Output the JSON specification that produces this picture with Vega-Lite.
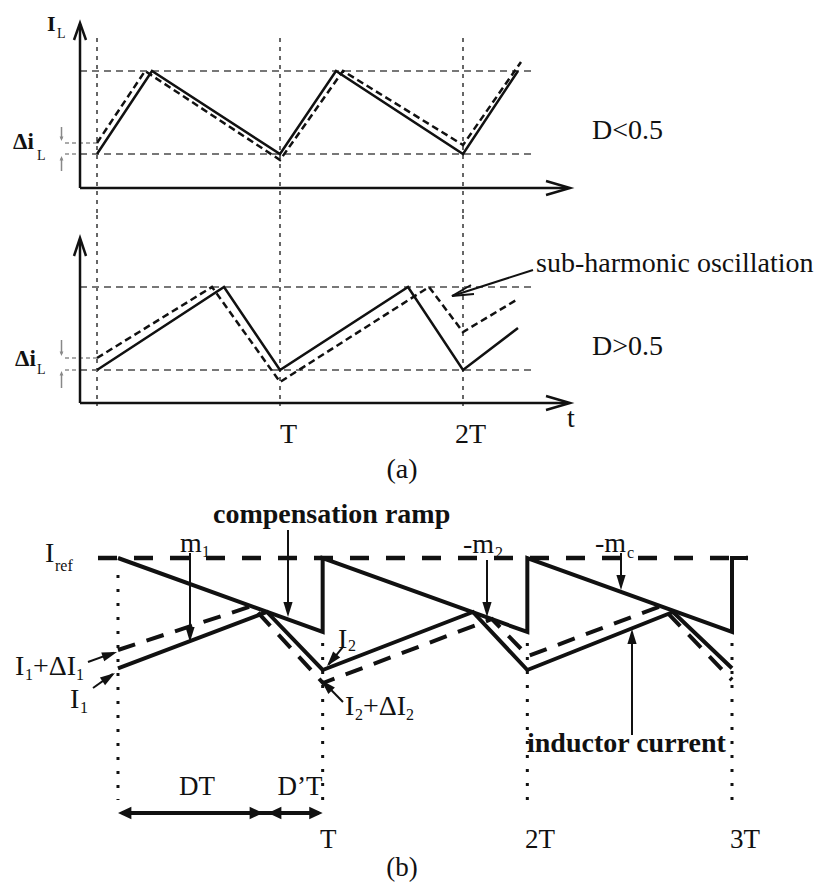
{
  "$schema": "https://vega.github.io/schema/vega-lite/v6.json",
  "padding": 0,
  "spacing": 0,
  "bounds": "flush",
  "background": "white",
  "config": {"view": {"stroke": null}, "concat": {"spacing": 0}},
  "datasets": {
    "a1L": [
      {"id": "yax", "kind": "axis", "k": 0, "t": -0.0929, "i": -0.4096},
      {"id": "yax", "kind": "axis", "k": 1, "t": -0.0929, "i": 1.5663},
      {"id": "yarr", "kind": "axis", "k": 0, "t": -0.1257, "i": 1.3735},
      {"id": "yarr", "kind": "axis", "k": 1, "t": -0.0929, "i": 1.5783},
      {"id": "yarr", "kind": "axis", "k": 2, "t": -0.0601, "i": 1.3735},
      {"id": "xax", "kind": "axis", "k": 0, "t": -0.0929, "i": -0.4096},
      {"id": "xax", "kind": "axis", "k": 1, "t": 2.5738, "i": -0.4096},
      {"id": "xarr", "kind": "axis", "k": 0, "t": 2.4536, "i": -0.3253},
      {"id": "xarr", "kind": "axis", "k": 1, "t": 2.5847, "i": -0.4096},
      {"id": "xarr", "kind": "axis", "k": 2, "t": 2.4536, "i": -0.494},
      {"id": "h1", "kind": "hguide", "k": 0, "t": -0.0929, "i": 1},
      {"id": "h1", "kind": "hguide", "k": 1, "t": 2.3934, "i": 1},
      {"id": "h0", "kind": "hguide", "k": 0, "t": -0.0929, "i": 0},
      {"id": "h0", "kind": "hguide", "k": 1, "t": 2.3934, "i": 0},
      {"id": "l0", "kind": "lguide", "k": 0, "t": -0.1749, "i": 0},
      {"id": "l0", "kind": "lguide", "k": 1, "t": -0.0929, "i": 0},
      {"id": "ld", "kind": "lguide", "k": 0, "t": -0.1749, "i": 0.1325},
      {"id": "ld", "kind": "lguide", "k": 1, "t": 0, "i": 0.1325},
      {"id": "v0", "kind": "vguide", "k": 0, "t": 0, "i": 1.3976},
      {"id": "v0", "kind": "vguide", "k": 1, "t": 0, "i": -0.7349},
      {"id": "v1", "kind": "vguide", "k": 0, "t": 1, "i": 1.3976},
      {"id": "v1", "kind": "vguide", "k": 1, "t": 1, "i": -0.7349},
      {"id": "v2", "kind": "vguide", "k": 0, "t": 2, "i": 1.3976},
      {"id": "v2", "kind": "vguide", "k": 1, "t": 2, "i": -0.7349},
      {"id": "nom", "kind": "nominal", "k": 0, "t": 0, "i": 0},
      {"id": "nom", "kind": "nominal", "k": 1, "t": 0.3005, "i": 1},
      {"id": "nom", "kind": "nominal", "k": 2, "t": 1, "i": 0},
      {"id": "nom", "kind": "nominal", "k": 3, "t": 1.306, "i": 1},
      {"id": "nom", "kind": "nominal", "k": 4, "t": 2, "i": 0},
      {"id": "nom", "kind": "nominal", "k": 5, "t": 2.3005, "i": 1},
      {"id": "pert", "kind": "perturbed", "k": 0, "t": 0, "i": 0.1325},
      {"id": "pert", "kind": "perturbed", "k": 1, "t": 0.2623, "i": 1},
      {"id": "pert", "kind": "perturbed", "k": 2, "t": 1, "i": -0.0723},
      {"id": "pert", "kind": "perturbed", "k": 3, "t": 1.3443, "i": 1},
      {"id": "pert", "kind": "perturbed", "k": 4, "t": 2, "i": 0.1084},
      {"id": "pert", "kind": "perturbed", "k": 5, "t": 2.3169, "i": 1.1084},
      {"id": "sa1", "kind": "small", "k": 0, "t": -0.194, "i": 0.3253},
      {"id": "sa1", "kind": "small", "k": 1, "t": -0.194, "i": 0.1807},
      {"id": "sa2", "kind": "small", "k": 0, "t": -0.194, "i": -0.2048},
      {"id": "sa2", "kind": "small", "k": 1, "t": -0.194, "i": -0.0482}
    ],
    "a1P": [
      {"kind": "small", "t": -0.194, "i": 0.1566, "heading": 180},
      {"kind": "small", "t": -0.194, "i": -0.0241, "heading": 0}
    ],
    "a1T": [
      {"kind": "axislabel", "t": -0.2732, "i": 1.4819, "text": "I"},
      {"kind": "axissub", "t": -0.2186, "i": 1.3976, "text": "L"},
      {"kind": "delta", "t": -0.459, "i": 0.0602, "text": "Δi"},
      {"kind": "deltasub", "t": -0.3279, "i": -0.0723, "text": "L"},
      {"kind": "note", "t": 2.7049, "i": 0.1807, "text": "D<0.5"}
    ],
    "a2L": [
      {"id": "yax", "kind": "axis", "k": 0, "t": -0.0929, "i": -0.3976},
      {"id": "yax", "kind": "axis", "k": 1, "t": -0.0929, "i": 1.5663},
      {"id": "yarr", "kind": "axis", "k": 0, "t": -0.1257, "i": 1.3735},
      {"id": "yarr", "kind": "axis", "k": 1, "t": -0.0929, "i": 1.5904},
      {"id": "yarr", "kind": "axis", "k": 2, "t": -0.0601, "i": 1.3735},
      {"id": "xax", "kind": "axis", "k": 0, "t": -0.0929, "i": -0.3976},
      {"id": "xax", "kind": "axis", "k": 1, "t": 2.5738, "i": -0.3976},
      {"id": "xarr", "kind": "axis", "k": 0, "t": 2.4536, "i": -0.3133},
      {"id": "xarr", "kind": "axis", "k": 1, "t": 2.5847, "i": -0.3976},
      {"id": "xarr", "kind": "axis", "k": 2, "t": 2.4536, "i": -0.4819},
      {"id": "h1", "kind": "hguide", "k": 0, "t": -0.0929, "i": 1},
      {"id": "h1", "kind": "hguide", "k": 1, "t": 2.3934, "i": 1},
      {"id": "h0", "kind": "hguide", "k": 0, "t": -0.0929, "i": 0},
      {"id": "h0", "kind": "hguide", "k": 1, "t": 2.3934, "i": 0},
      {"id": "l0", "kind": "lguide", "k": 0, "t": -0.1749, "i": 0},
      {"id": "l0", "kind": "lguide", "k": 1, "t": -0.0929, "i": 0},
      {"id": "ld", "kind": "lguide", "k": 0, "t": -0.1749, "i": 0.1446},
      {"id": "ld", "kind": "lguide", "k": 1, "t": 0, "i": 0.1446},
      {"id": "v0", "kind": "vguide", "k": 0, "t": 0, "i": 1.8675},
      {"id": "v0", "kind": "vguide", "k": 1, "t": 0, "i": -0.4337},
      {"id": "v1", "kind": "vguide", "k": 0, "t": 1, "i": 1.8675},
      {"id": "v1", "kind": "vguide", "k": 1, "t": 1, "i": -0.4337},
      {"id": "v2", "kind": "vguide", "k": 0, "t": 2, "i": 1.8675},
      {"id": "v2", "kind": "vguide", "k": 1, "t": 2, "i": -0.4337},
      {"id": "nom", "kind": "nominal", "k": 0, "t": 0, "i": 0},
      {"id": "nom", "kind": "nominal", "k": 1, "t": 0.694, "i": 1},
      {"id": "nom", "kind": "nominal", "k": 2, "t": 1, "i": 0},
      {"id": "nom", "kind": "nominal", "k": 3, "t": 1.6995, "i": 1},
      {"id": "nom", "kind": "nominal", "k": 4, "t": 2, "i": 0},
      {"id": "nom", "kind": "nominal", "k": 5, "t": 2.3005, "i": 0.506},
      {"id": "pert", "kind": "perturbed", "k": 0, "t": 0, "i": 0.1446},
      {"id": "pert", "kind": "perturbed", "k": 1, "t": 0.6284, "i": 1},
      {"id": "pert", "kind": "perturbed", "k": 2, "t": 1, "i": -0.1446},
      {"id": "pert", "kind": "perturbed", "k": 3, "t": 1.8142, "i": 1},
      {"id": "pert", "kind": "perturbed", "k": 4, "t": 2, "i": 0.4578},
      {"id": "pert", "kind": "perturbed", "k": 5, "t": 2.3005, "i": 0.8554},
      {"id": "sa1", "kind": "small", "k": 0, "t": -0.194, "i": 0.3614},
      {"id": "sa1", "kind": "small", "k": 1, "t": -0.194, "i": 0.1928},
      {"id": "sa2", "kind": "small", "k": 0, "t": -0.194, "i": -0.2169},
      {"id": "sa2", "kind": "small", "k": 1, "t": -0.194, "i": -0.0482},
      {"id": "shaft", "kind": "annot", "k": 0, "t": 2.3825, "i": 1.2048},
      {"id": "shaft", "kind": "annot", "k": 1, "t": 1.9399, "i": 0.8916},
      {"id": "barb", "kind": "annot", "k": 0, "t": 2.0437, "i": 1.0241},
      {"id": "barb", "kind": "annot", "k": 1, "t": 1.9399, "i": 0.8916},
      {"id": "barb", "kind": "annot", "k": 2, "t": 2.0601, "i": 0.9157}
    ],
    "a2P": [
      {"kind": "small", "t": -0.194, "i": 0.1687, "heading": 180},
      {"kind": "small", "t": -0.194, "i": -0.012, "heading": 0}
    ],
    "a2T": [
      {"kind": "delta", "t": -0.4481, "i": 0.0482, "text": "Δi"},
      {"kind": "deltasub", "t": -0.3279, "i": -0.0482, "text": "L"},
      {"kind": "note", "t": 2.7049, "i": 0.1807, "text": "D>0.5"},
      {"kind": "note", "t": 2.3989, "i": 1.1807, "text": "sub-harmonic oscillation"},
      {"kind": "tick", "t": 1, "i": -0.8795, "text": "T"},
      {"kind": "tick", "t": 1.9563, "i": -0.8795, "text": "2T"},
      {"kind": "tick", "t": 2.5683, "i": -0.6867, "text": "t"},
      {"kind": "caption", "t": 1.6667, "i": -1.3012, "text": "(a)"}
    ],
    "bL": [
      {"id": "iref", "kind": "iref", "k": 0, "t": -0.0977, "i": 1},
      {"id": "iref", "kind": "iref", "k": 1, "t": 3.0782, "i": 1},
      {"id": "ramp", "kind": "heavy", "k": 0, "t": 0, "i": 1},
      {"id": "ramp", "kind": "heavy", "k": 1, "t": 1, "i": 0.3393},
      {"id": "ramp", "kind": "heavy", "k": 2, "t": 1, "i": 1},
      {"id": "ramp", "kind": "heavy", "k": 3, "t": 2, "i": 0.3393},
      {"id": "ramp", "kind": "heavy", "k": 4, "t": 2, "i": 1},
      {"id": "ramp", "kind": "heavy", "k": 5, "t": 3, "i": 0.3393},
      {"id": "ramp", "kind": "heavy", "k": 6, "t": 3, "i": 1},
      {"id": "ramp", "kind": "heavy", "k": 7, "t": 3.0782, "i": 1},
      {"id": "nom", "kind": "heavy", "k": 0, "t": 0, "i": 0.015},
      {"id": "nom", "kind": "heavy", "k": 1, "t": 0.728, "i": 0.518},
      {"id": "nom", "kind": "heavy", "k": 2, "t": 1, "i": 0},
      {"id": "nom", "kind": "heavy", "k": 3, "t": 1.734, "i": 0.518},
      {"id": "nom", "kind": "heavy", "k": 4, "t": 2, "i": 0},
      {"id": "nom", "kind": "heavy", "k": 5, "t": 2.712, "i": 0.518},
      {"id": "nom", "kind": "heavy", "k": 6, "t": 3, "i": 0.015},
      {"id": "pert", "kind": "heavydash", "k": 0, "t": 0, "i": 0.1786},
      {"id": "pert", "kind": "heavydash", "k": 1, "t": 0.6547, "i": 0.5714},
      {"id": "pert", "kind": "heavydash", "k": 2, "t": 1.0016, "i": -0.1161},
      {"id": "pert", "kind": "heavydash", "k": 3, "t": 1.8273, "i": 0.4554},
      {"id": "pert", "kind": "heavydash", "k": 4, "t": 2.0033, "i": 0.125},
      {"id": "pert", "kind": "heavydash", "k": 5, "t": 2.6531, "i": 0.5714},
      {"id": "pert", "kind": "heavydash", "k": 6, "t": 3, "i": -0.0893},
      {"id": "vd0", "kind": "dots", "k": 0, "t": 0, "i": 0.8482},
      {"id": "vd0", "kind": "dots", "k": 1, "t": 0, "i": -1.1607},
      {"id": "vd1", "kind": "dots", "k": 0, "t": 1, "i": 0.2411},
      {"id": "vd1", "kind": "dots", "k": 1, "t": 1, "i": -1.1607},
      {"id": "vd2", "kind": "dots", "k": 0, "t": 2, "i": 0.2411},
      {"id": "vd2", "kind": "dots", "k": 1, "t": 2, "i": -1.1607},
      {"id": "vd3", "kind": "dots", "k": 0, "t": 3, "i": 0.2411},
      {"id": "vd3", "kind": "dots", "k": 1, "t": 3, "i": -1.1607},
      {"id": "dim", "kind": "dim", "k": 0, "t": 0.02, "i": -1.2768},
      {"id": "dim", "kind": "dim", "k": 1, "t": 0.98, "i": -1.2768},
      {"id": "m1", "kind": "annot", "k": 0, "t": 0.3518, "i": 1.0446},
      {"id": "m1", "kind": "annot", "k": 1, "t": 0.3518, "i": 0.28},
      {"id": "comp", "kind": "annot", "k": 0, "t": 0.8306, "i": 1.25},
      {"id": "comp", "kind": "annot", "k": 1, "t": 0.8306, "i": 0.5},
      {"id": "m2", "kind": "annot", "k": 0, "t": 1.8029, "i": 0.9821},
      {"id": "m2", "kind": "annot", "k": 1, "t": 1.8029, "i": 0.5},
      {"id": "mc", "kind": "annot", "k": 0, "t": 2.4576, "i": 1.0446},
      {"id": "mc", "kind": "annot", "k": 1, "t": 2.4576, "i": 0.74},
      {"id": "ind", "kind": "annot", "k": 0, "t": 2.5114, "i": -0.5804},
      {"id": "ind", "kind": "annot", "k": 1, "t": 2.5114, "i": 0.33},
      {"id": "i1d", "kind": "annot", "k": 0, "t": -0.1466, "i": 0.0714},
      {"id": "i1d", "kind": "annot", "k": 1, "t": -0.02, "i": 0.155},
      {"id": "i1", "kind": "annot", "k": 0, "t": -0.1221, "i": -0.1607},
      {"id": "i1", "kind": "annot", "k": 1, "t": -0.025, "i": -0.035},
      {"id": "i2", "kind": "annot", "k": 0, "t": 1.0993, "i": 0.2054},
      {"id": "i2", "kind": "annot", "k": 1, "t": 1.03, "i": 0.05},
      {"id": "i2d", "kind": "annot", "k": 0, "t": 1.0993, "i": -0.2857},
      {"id": "i2d", "kind": "annot", "k": 1, "t": 1.0, "i": -0.1}
    ],
    "bP": [
      {"kind": "annot", "t": 0.3518, "i": 0.25, "heading": 180},
      {"kind": "annot", "t": 0.8306, "i": 0.4732, "heading": 180},
      {"kind": "annot", "t": 1.8029, "i": 0.4732, "heading": 180},
      {"kind": "annot", "t": 2.4576, "i": 0.7143, "heading": 180},
      {"kind": "annot", "t": 2.5114, "i": 0.366, "heading": 0},
      {"kind": "annot", "t": -0.0049, "i": 0.1607, "heading": 71},
      {"kind": "annot", "t": -0.0147, "i": -0.0268, "heading": 56},
      {"kind": "annot", "t": 1.0212, "i": 0.0357, "heading": 220},
      {"kind": "annot", "t": 0.9918, "i": -0.0893, "heading": 315},
      {"kind": "dim", "t": 0, "i": -1.2768, "heading": 270},
      {"kind": "dim", "t": 0.7085, "i": -1.2768, "heading": 90},
      {"kind": "dim", "t": 0.7329, "i": -1.2768, "heading": 270},
      {"kind": "dim", "t": 1, "i": -1.2768, "heading": 90}
    ],
    "bT": [
      {"kind": "sym", "t": -0.3567, "i": 0.9643, "text": "I"},
      {"kind": "sub", "t": -0.3078, "i": 0.8839, "text": "ref"},
      {"kind": "sym", "t": 0.3029, "i": 1.0536, "text": "m"},
      {"kind": "sub", "t": 0.4104, "i": 1.0089, "text": "1"},
      {"kind": "label", "t": 0.4642, "i": 1.3125, "text": "compensation ramp"},
      {"kind": "sym", "t": 1.6856, "i": 1.0446, "text": "-m"},
      {"kind": "sub", "t": 1.842, "i": 1.0, "text": "2"},
      {"kind": "sym", "t": 2.3306, "i": 1.0536, "text": "-m"},
      {"kind": "sub", "t": 2.4869, "i": 1.0, "text": "c"},
      {"kind": "sym", "t": 1.0749, "i": 0.1964, "text": "I"},
      {"kind": "sub", "t": 1.1238, "i": 0.1696, "text": "2"},
      {"kind": "sym", "t": -0.5033, "i": -0.0446, "text": "I"},
      {"kind": "sub", "t": -0.4544, "i": -0.0893, "text": "1"},
      {"kind": "sym", "t": -0.4153, "i": -0.0446, "text": "+ΔI"},
      {"kind": "sub", "t": -0.2052, "i": -0.0893, "text": "1"},
      {"kind": "sym", "t": -0.2345, "i": -0.3393, "text": "I"},
      {"kind": "sub", "t": -0.1857, "i": -0.3839, "text": "1"},
      {"kind": "sym", "t": 1.1091, "i": -0.4018, "text": "I"},
      {"kind": "sub", "t": 1.158, "i": -0.4464, "text": "2"},
      {"kind": "sym", "t": 1.197, "i": -0.4018, "text": "+ΔI"},
      {"kind": "sub", "t": 1.4071, "i": -0.4464, "text": "2"},
      {"kind": "label", "t": 1.9983, "i": -0.7321, "text": "inductor current"},
      {"kind": "span", "t": 0.386, "i": -1.1161, "text": "DT"},
      {"kind": "span", "t": 0.8892, "i": -1.1161, "text": "D’T"},
      {"kind": "tick", "t": 0.987, "i": -1.5893, "text": "T"},
      {"kind": "tick", "t": 1.9886, "i": -1.5893, "text": "2T"},
      {"kind": "tick", "t": 2.9902, "i": -1.5893, "text": "3T"},
      {"kind": "caption", "t": 1.3876, "i": -1.8393, "text": "(b)"}
    ]
  },
  "vconcat": [
    {
      "width": 824,
      "height": 215,
      "encoding": {
        "x": {"field": "t", "type": "quantitative", "scale": {"domain": [-0.5301, 3.9727], "nice": false, "zero": false}, "axis": null},
        "y": {"field": "i", "type": "quantitative", "scale": {"domain": [-0.7349, 1.8554], "nice": false, "zero": false}, "axis": null}
      },
      "layer": [
        {"data": {"name": "a1L"}, "transform": [{"filter": "datum.kind === 'vguide'"}], "mark": {"type": "line", "color": "#666", "strokeWidth": 2, "strokeDash": [4, 5]}, "encoding": {"detail": {"field": "id"}, "order": {"field": "k"}}},
        {"data": {"name": "a1L"}, "transform": [{"filter": "datum.kind === 'hguide'"}], "mark": {"type": "line", "color": "#777", "strokeWidth": 2, "strokeDash": [7, 5]}, "encoding": {"detail": {"field": "id"}, "order": {"field": "k"}}},
        {"data": {"name": "a1L"}, "transform": [{"filter": "datum.kind === 'lguide'"}], "mark": {"type": "line", "color": "#aaa", "strokeWidth": 2, "strokeDash": [4, 3]}, "encoding": {"detail": {"field": "id"}, "order": {"field": "k"}}},
        {"data": {"name": "a1L"}, "transform": [{"filter": "datum.kind === 'small'"}], "mark": {"type": "line", "color": "#888", "strokeWidth": 1.5}, "encoding": {"detail": {"field": "id"}, "order": {"field": "k"}}},
        {"data": {"name": "a1P"}, "mark": {"type": "point", "shape": "M0,0L-0.6,1.4L0.6,1.4Z", "filled": true, "color": "#888", "size": 40, "opacity": 1}, "encoding": {"angle": {"field": "heading", "type": "quantitative", "scale": null}}},
        {"data": {"name": "a1L"}, "transform": [{"filter": "datum.kind === 'axis'"}], "mark": {"type": "line", "color": "#111", "strokeWidth": 2.5}, "encoding": {"detail": {"field": "id"}, "order": {"field": "k"}}},
        {"data": {"name": "a1L"}, "transform": [{"filter": "datum.kind === 'perturbed'"}], "mark": {"type": "line", "color": "#111", "strokeWidth": 2.5, "strokeDash": [7, 4]}, "encoding": {"detail": {"field": "id"}, "order": {"field": "k"}}},
        {"data": {"name": "a1L"}, "transform": [{"filter": "datum.kind === 'nominal'"}], "mark": {"type": "line", "color": "#111", "strokeWidth": 2.5}, "encoding": {"detail": {"field": "id"}, "order": {"field": "k"}}},
        {"data": {"name": "a1T"}, "transform": [{"filter": "datum.kind === 'axislabel'"}], "mark": {"type": "text", "font": "Liberation Serif", "fontSize": 22, "fontWeight": "bold", "align": "left", "baseline": "alphabetic", "color": "#111"}, "encoding": {"text": {"field": "text"}}},
        {"data": {"name": "a1T"}, "transform": [{"filter": "datum.kind === 'axissub'"}], "mark": {"type": "text", "font": "Liberation Serif", "fontSize": 14, "align": "left", "baseline": "alphabetic", "color": "#111"}, "encoding": {"text": {"field": "text"}}},
        {"data": {"name": "a1T"}, "transform": [{"filter": "datum.kind === 'delta'"}], "mark": {"type": "text", "font": "Liberation Serif", "fontSize": 23, "fontWeight": "bold", "align": "left", "baseline": "alphabetic", "color": "#111"}, "encoding": {"text": {"field": "text"}}},
        {"data": {"name": "a1T"}, "transform": [{"filter": "datum.kind === 'deltasub'"}], "mark": {"type": "text", "font": "Liberation Serif", "fontSize": 14, "align": "left", "baseline": "alphabetic", "color": "#111"}, "encoding": {"text": {"field": "text"}}},
        {"data": {"name": "a1T"}, "transform": [{"filter": "datum.kind === 'note'"}], "mark": {"type": "text", "font": "Liberation Serif", "fontSize": 28, "align": "left", "baseline": "alphabetic", "color": "#111"}, "encoding": {"text": {"field": "text"}}}
      ]
    },
    {
      "width": 824,
      "height": 275,
      "encoding": {
        "x": {"field": "t", "type": "quantitative", "scale": {"domain": [-0.5301, 3.9727], "nice": false, "zero": false}, "axis": null},
        "y": {"field": "i", "type": "quantitative", "scale": {"domain": [-1.4458, 1.8675], "nice": false, "zero": false}, "axis": null}
      },
      "layer": [
        {"data": {"name": "a2L"}, "transform": [{"filter": "datum.kind === 'vguide'"}], "mark": {"type": "line", "color": "#666", "strokeWidth": 2, "strokeDash": [4, 5]}, "encoding": {"detail": {"field": "id"}, "order": {"field": "k"}}},
        {"data": {"name": "a2L"}, "transform": [{"filter": "datum.kind === 'hguide'"}], "mark": {"type": "line", "color": "#777", "strokeWidth": 2, "strokeDash": [7, 5]}, "encoding": {"detail": {"field": "id"}, "order": {"field": "k"}}},
        {"data": {"name": "a2L"}, "transform": [{"filter": "datum.kind === 'lguide'"}], "mark": {"type": "line", "color": "#aaa", "strokeWidth": 2, "strokeDash": [4, 3]}, "encoding": {"detail": {"field": "id"}, "order": {"field": "k"}}},
        {"data": {"name": "a2L"}, "transform": [{"filter": "datum.kind === 'small'"}], "mark": {"type": "line", "color": "#888", "strokeWidth": 1.5}, "encoding": {"detail": {"field": "id"}, "order": {"field": "k"}}},
        {"data": {"name": "a2P"}, "mark": {"type": "point", "shape": "M0,0L-0.6,1.4L0.6,1.4Z", "filled": true, "color": "#888", "size": 40, "opacity": 1}, "encoding": {"angle": {"field": "heading", "type": "quantitative", "scale": null}}},
        {"data": {"name": "a2L"}, "transform": [{"filter": "datum.kind === 'axis'"}], "mark": {"type": "line", "color": "#111", "strokeWidth": 2.5}, "encoding": {"detail": {"field": "id"}, "order": {"field": "k"}}},
        {"data": {"name": "a2L"}, "transform": [{"filter": "datum.kind === 'annot'"}], "mark": {"type": "line", "color": "#111", "strokeWidth": 2}, "encoding": {"detail": {"field": "id"}, "order": {"field": "k"}}},
        {"data": {"name": "a2L"}, "transform": [{"filter": "datum.kind === 'perturbed'"}], "mark": {"type": "line", "color": "#111", "strokeWidth": 2.5, "strokeDash": [7, 4]}, "encoding": {"detail": {"field": "id"}, "order": {"field": "k"}}},
        {"data": {"name": "a2L"}, "transform": [{"filter": "datum.kind === 'nominal'"}], "mark": {"type": "line", "color": "#111", "strokeWidth": 2.5}, "encoding": {"detail": {"field": "id"}, "order": {"field": "k"}}},
        {"data": {"name": "a2T"}, "transform": [{"filter": "datum.kind === 'delta'"}], "mark": {"type": "text", "font": "Liberation Serif", "fontSize": 23, "fontWeight": "bold", "align": "left", "baseline": "alphabetic", "color": "#111"}, "encoding": {"text": {"field": "text"}}},
        {"data": {"name": "a2T"}, "transform": [{"filter": "datum.kind === 'deltasub'"}], "mark": {"type": "text", "font": "Liberation Serif", "fontSize": 14, "align": "left", "baseline": "alphabetic", "color": "#111"}, "encoding": {"text": {"field": "text"}}},
        {"data": {"name": "a2T"}, "transform": [{"filter": "datum.kind === 'note' || datum.kind === 'tick'"}], "mark": {"type": "text", "font": "Liberation Serif", "fontSize": 28, "align": "left", "baseline": "alphabetic", "color": "#111"}, "encoding": {"text": {"field": "text"}}},
        {"data": {"name": "a2T"}, "transform": [{"filter": "datum.kind === 'caption'"}], "mark": {"type": "text", "font": "Liberation Serif", "fontSize": 28, "align": "center", "baseline": "alphabetic", "color": "#111"}, "encoding": {"text": {"field": "text"}}}
      ]
    },
    {
      "width": 824,
      "height": 393,
      "encoding": {
        "x": {"field": "t", "type": "quantitative", "scale": {"domain": [-0.5765, 3.4495], "nice": false, "zero": false}, "axis": null},
        "y": {"field": "i", "type": "quantitative", "scale": {"domain": [-1.9018, 1.6071], "nice": false, "zero": false}, "axis": null}
      },
      "layer": [
        {"data": {"name": "bL"}, "transform": [{"filter": "datum.kind === 'dots'"}], "mark": {"type": "line", "color": "#111", "strokeWidth": 3, "strokeDash": [3, 11]}, "encoding": {"detail": {"field": "id"}, "order": {"field": "k"}}},
        {"data": {"name": "bL"}, "transform": [{"filter": "datum.kind === 'iref'"}], "mark": {"type": "line", "color": "#111", "strokeWidth": 4.5, "strokeDash": [19, 17]}, "encoding": {"detail": {"field": "id"}, "order": {"field": "k"}}},
        {"data": {"name": "bL"}, "transform": [{"filter": "datum.kind === 'heavydash'"}], "mark": {"type": "line", "color": "#111", "strokeWidth": 4, "strokeDash": [18, 12]}, "encoding": {"detail": {"field": "id"}, "order": {"field": "k"}}},
        {"data": {"name": "bL"}, "transform": [{"filter": "datum.kind === 'heavy'"}], "mark": {"type": "line", "color": "#111", "strokeWidth": 4}, "encoding": {"detail": {"field": "id"}, "order": {"field": "k"}}},
        {"data": {"name": "bL"}, "transform": [{"filter": "datum.kind === 'dim'"}], "mark": {"type": "line", "color": "#111", "strokeWidth": 4}, "encoding": {"detail": {"field": "id"}, "order": {"field": "k"}}},
        {"data": {"name": "bL"}, "transform": [{"filter": "datum.kind === 'annot'"}], "mark": {"type": "line", "color": "#111", "strokeWidth": 2}, "encoding": {"detail": {"field": "id"}, "order": {"field": "k"}}},
        {"data": {"name": "bP"}, "transform": [{"filter": "datum.kind === 'annot'"}], "mark": {"type": "point", "shape": "M0,0L-0.55,1.8L0.55,1.8Z", "filled": true, "color": "#111", "size": 280, "opacity": 1}, "encoding": {"angle": {"field": "heading", "type": "quantitative", "scale": null}}},
        {"data": {"name": "bP"}, "transform": [{"filter": "datum.kind === 'dim'"}], "mark": {"type": "point", "shape": "M0,0L-0.75,1.6L0.75,1.6Z", "filled": true, "color": "#111", "size": 280, "opacity": 1}, "encoding": {"angle": {"field": "heading", "type": "quantitative", "scale": null}}},
        {"data": {"name": "bT"}, "transform": [{"filter": "datum.kind === 'sym'"}], "mark": {"type": "text", "font": "Liberation Serif", "fontSize": 28, "align": "left", "baseline": "alphabetic", "color": "#111"}, "encoding": {"text": {"field": "text"}}},
        {"data": {"name": "bT"}, "transform": [{"filter": "datum.kind === 'sub'"}], "mark": {"type": "text", "font": "Liberation Serif", "fontSize": 16, "align": "left", "baseline": "alphabetic", "color": "#111"}, "encoding": {"text": {"field": "text"}}},
        {"data": {"name": "bT"}, "transform": [{"filter": "datum.kind === 'label'"}], "mark": {"type": "text", "font": "Liberation Serif", "fontSize": 28, "fontWeight": "bold", "align": "left", "baseline": "alphabetic", "color": "#111"}, "encoding": {"text": {"field": "text"}}},
        {"data": {"name": "bT"}, "transform": [{"filter": "datum.kind === 'tick'"}], "mark": {"type": "text", "font": "Liberation Serif", "fontSize": 27, "align": "left", "baseline": "alphabetic", "color": "#111"}, "encoding": {"text": {"field": "text"}}},
        {"data": {"name": "bT"}, "transform": [{"filter": "datum.kind === 'span' || datum.kind === 'caption'"}], "mark": {"type": "text", "font": "Liberation Serif", "fontSize": 27, "align": "center", "baseline": "alphabetic", "color": "#111"}, "encoding": {"text": {"field": "text"}}}
      ]
    }
  ]
}
